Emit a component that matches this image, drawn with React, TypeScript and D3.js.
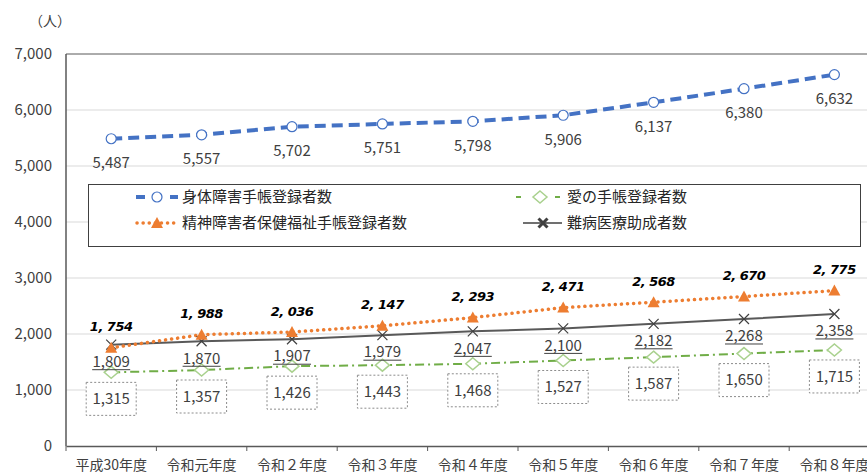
import React, { useEffect, useRef } from 'react';
import * as d3 from 'd3';

const categories = ['平成30年度', '令和元年度', '令和２年度', '令和３年度', '令和４年度', '令和５年度', '令和６年度', '令和７年度', '令和８年度'];
const shintai = [5487, 5557, 5702, 5751, 5798, 5906, 6137, 6380, 6632];
const seishin = [1754, 1988, 2036, 2147, 2293, 2471, 2568, 2670, 2775];
const nanbyo = [1809, 1870, 1907, 1979, 2047, 2100, 2182, 2268, 2358];
const ainoTecho = [1315, 1357, 1426, 1443, 1468, 1527, 1587, 1650, 1715];
const yTicks = [0, 1000, 2000, 3000, 4000, 5000, 6000, 7000];

const FONT = '"Noto Sans CJK JP", "Noto Sans", sans-serif';

const App = () => {
  const chartRef = useRef<HTMLDivElement>(null);

  useEffect(() => {
    const width = 867;
    const height = 475;
    const left = 66;
    const band = 90.4;
    const top = 54;
    const bottom = 446;

    const svg = d3.select(chartRef.current)
      .append('svg')
      .attr('width', width)
      .attr('height', height)
      .style('display', 'block')
      .style('background', '#fff')
      .style('font-family', FONT);

    const x = d3.scaleBand<string>().domain(categories).range([left, left + band * categories.length]);
    const y = d3.scaleLinear().domain([0, 7000]).range([bottom, top]);
    const cx = (i: number) => (x(categories[i]) as number) + x.bandwidth() / 2;
    const fmt = d3.format(',');

    // グリッド線
    svg.append('g')
      .selectAll('line')
      .data(yTicks.filter(d => d > 0 && d < 7000))
      .enter()
      .append('line')
      .attr('x1', left).attr('x2', width)
      .attr('y1', d => y(d)).attr('y2', d => y(d))
      .attr('stroke', '#d9d9d9').attr('stroke-width', 1);

    // 枠線
    svg.append('line').attr('x1', left).attr('x2', width).attr('y1', y(7000)).attr('y2', y(7000)).attr('stroke', '#595959');
    svg.append('line').attr('x1', left).attr('x2', left).attr('y1', y(7000)).attr('y2', y(0)).attr('stroke', '#595959').attr('stroke-width', 1.5);

    // Y軸
    svg.append('g')
      .attr('transform', `translate(${left},0)`)
      .call(d3.axisLeft(y).tickValues(yTicks).tickSize(0).tickPadding(14).tickFormat(d => fmt(d as number)))
      .call(g => g.select('.domain').remove())
      .call(g => g.selectAll('text').attr('font-size', 15).attr('font-family', FONT).attr('fill', '#404040'));

    svg.append('text')
      .attr('x', 50).attr('y', 26)
      .attr('text-anchor', 'middle')
      .attr('font-size', 14).attr('fill', '#404040')
      .text('（人）');

    // X軸
    svg.append('g')
      .attr('transform', `translate(0,${bottom})`)
      .call(d3.axisBottom(x).tickSize(0).tickPadding(14))
      .call(g => g.select('.domain').attr('stroke', '#595959').attr('stroke-width', 1.5))
      .call(g => g.selectAll('text').attr('font-size', 14).attr('font-family', FONT).attr('fill', '#404040'));

    svg.append('g')
      .selectAll('line')
      .data(d3.range(categories.length + 1))
      .enter()
      .append('line')
      .attr('x1', i => left + i * band).attr('x2', i => left + i * band)
      .attr('y1', bottom).attr('y2', bottom + 5)
      .attr('stroke', '#595959');

    const line = d3.line<number>().x((_, i) => cx(i)).y(d => y(d));

    // 愛の手帳
    svg.append('path').datum(ainoTecho).attr('d', line)
      .attr('fill', 'none').attr('stroke', '#70ad47').attr('stroke-width', 2)
      .attr('stroke-dasharray', '9,4,2,4');
    // 難病
    svg.append('path').datum(nanbyo).attr('d', line)
      .attr('fill', 'none').attr('stroke', '#595959').attr('stroke-width', 2);
    // 精神
    svg.append('path').datum(seishin).attr('d', line)
      .attr('fill', 'none').attr('stroke', '#ed7d31').attr('stroke-width', 3.5)
      .attr('stroke-linecap', 'round').attr('stroke-dasharray', '0.1,6');
    // 身体
    svg.append('path').datum(shintai).attr('d', line)
      .attr('fill', 'none').attr('stroke', '#4472c4').attr('stroke-width', 4)
      .attr('stroke-dasharray', '11,6');

    const diamond = (g: any, px: number, py: number) =>
      g.append('path').attr('d', `M${px},${py - 6}L${px + 7},${py}L${px},${py + 6}L${px - 7},${py}Z`)
        .attr('fill', '#fff').attr('stroke', '#a9d18e').attr('stroke-width', 1.5);
    const cross = (g: any, px: number, py: number, s: number, w: number) =>
      g.append('path').attr('d', `M${px - s},${py - s}L${px + s},${py + s}M${px - s},${py + s}L${px + s},${py - s}`)
        .attr('stroke', '#404040').attr('stroke-width', w);
    const tri = (g: any, px: number, py: number) =>
      g.append('path').attr('d', `M${px},${py - 6}L${px + 6},${py + 5}L${px - 6},${py + 5}Z`).attr('fill', '#ed7d31');
    const circle = (g: any, px: number, py: number) =>
      g.append('circle').attr('cx', px).attr('cy', py).attr('r', 5)
        .attr('fill', '#fff').attr('stroke', '#4472c4').attr('stroke-width', 1.2);

    const marks = svg.append('g');
    ainoTecho.forEach((d, i) => diamond(marks, cx(i), y(d)));
    nanbyo.forEach((d, i) => cross(marks, cx(i), y(d), 5, 1.2));
    seishin.forEach((d, i) => tri(marks, cx(i), y(d)));
    shintai.forEach((d, i) => circle(marks, cx(i), y(d)));

    // ラベル
    const labels = svg.append('g').attr('font-size', 15).attr('fill', '#404040');
    shintai.forEach((d, i) => {
      labels.append('text').attr('x', cx(i)).attr('y', y(d) + 24).attr('dy', '0.35em')
        .attr('text-anchor', 'middle').attr('fill', '#404040').text(fmt(d));
    });
    seishin.forEach((d, i) => {
      labels.append('text').attr('x', cx(i)).attr('y', y(d) - 21).attr('dy', '0.35em')
        .attr('text-anchor', 'middle').attr('fill', '#000')
        .attr('font-weight', 'bold').attr('font-style', 'italic').attr('font-size', 13)
        .attr('font-family', '"DejaVu Sans", sans-serif').attr('letter-spacing', -0.5)
        .text(fmt(d).replace(',', ', '));
    });
    nanbyo.forEach((d, i) => {
      const ty = y(d) + 17;
      labels.append('text').attr('x', cx(i)).attr('y', ty).attr('dy', '0.35em')
        .attr('text-anchor', 'middle').attr('fill', '#404040').text(fmt(d));
      labels.append('line').attr('x1', cx(i) - 19).attr('x2', cx(i) + 19)
        .attr('y1', ty + 8).attr('y2', ty + 8)
        .attr('stroke', '#404040').attr('stroke-width', 1);
    });
    ainoTecho.forEach((d, i) => {
      const by = y(d) + 10;
      labels.append('rect').attr('x', cx(i) - 25).attr('y', by).attr('width', 50).attr('height', 33)
        .attr('fill', '#fff').attr('stroke', '#8c8c8c').attr('stroke-width', 1).attr('stroke-dasharray', '2,2');
      labels.append('text').attr('x', cx(i)).attr('y', by + 16.5).attr('dy', '0.35em')
        .attr('text-anchor', 'middle').attr('fill', '#404040').text(fmt(d));
    });

    // 凡例
    const legend = svg.append('g').attr('font-size', 15).attr('fill', '#262626');
    legend.append('rect').attr('x', 88.5).attr('y', 184.5).attr('width', 772).attr('height', 62)
      .attr('fill', '#fff').attr('stroke', '#404040').attr('stroke-width', 1);

    const r1 = 197;
    const r2 = 223;
    legend.append('line').attr('x1', 136).attr('x2', 178).attr('y1', r1).attr('y2', r1)
      .attr('stroke', '#4472c4').attr('stroke-width', 4).attr('stroke-dasharray', '9,8');
    circle(legend, 157, r1);
    legend.append('text').attr('x', 182).attr('y', r1).attr('dy', '0.35em').text('身体障害手帳登録者数');

    legend.append('line').attr('x1', 137).attr('x2', 178).attr('y1', r2).attr('y2', r2)
      .attr('stroke', '#ed7d31').attr('stroke-width', 3.5).attr('stroke-linecap', 'round').attr('stroke-dasharray', '0.1,6');
    tri(legend, 157, r2);
    legend.append('text').attr('x', 182).attr('y', r2).attr('dy', '0.35em').text('精神障害者保健福祉手帳登録者数');

    legend.append('line').attr('x1', 516).attr('x2', 560).attr('y1', r1).attr('y2', r1)
      .attr('stroke', '#70ad47').attr('stroke-width', 2).attr('stroke-dasharray', '5,12,2,20');
    diamond(legend, 540, r1);
    legend.append('text').attr('x', 567).attr('y', r1).attr('dy', '0.35em').text('愛の手帳登録者数');

    legend.append('line').attr('x1', 523).attr('x2', 562).attr('y1', r2).attr('y2', r2)
      .attr('stroke', '#404040').attr('stroke-width', 1.5);
    cross(legend, 543, r2, 4.5, 3);
    legend.append('text').attr('x', 567).attr('y', r2).attr('dy', '0.35em').text('難病医療助成者数');

    return () => {
      d3.select(chartRef.current).select('svg').remove();
    };
  }, []);

  return <div ref={chartRef} style={{ position: 'absolute', left: 0, top: 0 }}></div>;
};

export default App;
